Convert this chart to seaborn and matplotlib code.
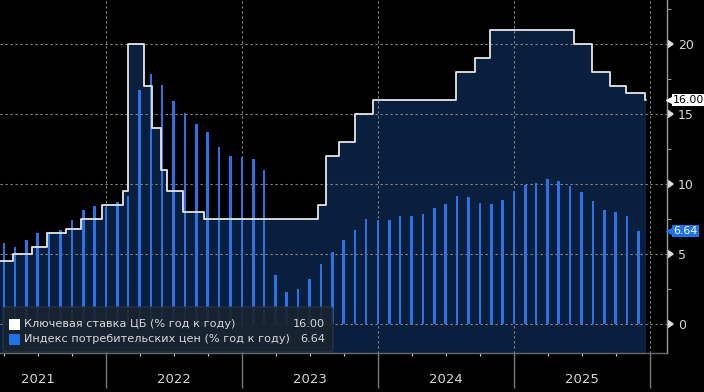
import numpy as np
import pandas as pd
import matplotlib as mpl
import matplotlib.pyplot as plt
import matplotlib.dates as mdates
import matplotlib.transforms as mtransforms
from matplotlib.patches import FancyBboxPatch, Rectangle
import seaborn as sns

# Key rate of the central bank: date of each change and the new level (%)
rate_dates = ['2021-03-21', '2021-04-26', '2021-06-15', '2021-07-26', '2021-09-13',
              '2021-10-25', '2021-12-20', '2022-02-14', '2022-02-28', '2022-04-11',
              '2022-05-04', '2022-05-27', '2022-06-14', '2022-07-25', '2022-09-19',
              '2023-07-24', '2023-08-15', '2023-09-18', '2023-10-30', '2023-12-18',
              '2024-07-29', '2024-09-16', '2024-10-28', '2025-06-09', '2025-07-28',
              '2025-09-15', '2025-10-27', '2025-12-19', '2025-12-20']
rate_values = [4.5, 5.0, 5.5, 6.5, 6.75, 7.5, 8.5, 9.5, 20.0, 17.0,
               14.0, 11.0, 9.5, 8.0, 7.5, 8.5, 12.0, 13.0, 15.0, 16.0,
               18.0, 19.0, 21.0, 20.0, 18.0, 17.0, 16.5, 16.0, 16.0]

# Consumer price index, % y/y, monthly from Mar 2021 to Nov 2025 (plotted at month end)
cpi_first_month = '2021-03'
cpi_values = [5.79, 5.53, 6.02, 6.50, 6.46, 6.68, 7.41, 8.13, 8.40, 8.39,
              8.73, 9.15, 16.69, 17.83, 17.10, 15.90, 15.10, 14.30, 13.68, 12.63, 11.98, 11.94,
              11.77, 10.99, 3.51, 2.31, 2.51, 3.25, 4.30, 5.15, 6.00, 6.69, 7.48, 7.42,
              7.44, 7.69, 7.72, 7.84, 8.30, 8.59, 9.13, 9.05, 8.63, 8.54, 8.88, 9.52,
              9.92, 10.06, 10.34, 10.23, 9.88, 9.40, 8.79, 8.14, 7.98, 7.71, 6.64]

rate_label = 'Ключевая ставка ЦБ (% год к году)'
cpi_label = 'Индекс потребительских цен (% год к году)'
y_ticks = [0, 5, 10, 15, 20]

BG = 'black'
FILL = '#0a1f3d'
BAR = '#2a72e6'
LINE = '#e6e6e6'
TXT = '#d8d8d8'
GRID = '#8a8a8a'


def main():
    sns.set_theme(style='dark', rc={
        'figure.facecolor': BG, 'axes.facecolor': BG, 'savefig.facecolor': BG,
        'text.color': TXT, 'xtick.color': TXT, 'ytick.color': TXT,
    })
    plt.rcParams['font.family'] = ['DejaVu Sans']

    rate = pd.DataFrame({'date': pd.to_datetime(rate_dates), 'rate': rate_values})
    cpi_dates = pd.date_range(cpi_first_month, periods=len(cpi_values), freq='ME')

    fig = plt.figure(figsize=(7.04, 3.92), dpi=100)
    ax = fig.add_axes([0, 39 / 392, 667 / 704, 353 / 392])

    ax.fill_between(rate['date'], rate['rate'], -5, step='post', color=FILL, lw=0, zorder=1)
    ax.bar(cpi_dates, cpi_values, width=6.5, color=BAR, lw=0, zorder=2)
    sns.lineplot(data=rate, x='date', y='rate', drawstyle='steps-post', color=LINE,
                 lw=1.3, ax=ax, zorder=3, estimator=None)

    ax.set_xlim(pd.Timestamp('2021-03-21'), pd.Timestamp('2026-02-15'))
    ax.set_ylim(-2.07, 23.14)
    ax.set_xlabel('')
    ax.set_ylabel('')

    # grid
    ax.set_axisbelow('line')
    ax.grid(True, which='major', color=GRID, lw=0.8, ls=(0, (2, 2.5)))

    # y axis on the right
    ax.yaxis.tick_right()
    ax.set_yticks(y_ticks)
    ax.yaxis.set_minor_locator(mpl.ticker.MultipleLocator(2.5))
    ax.tick_params(axis='y', which='major', length=6, pad=2, labelsize=9, colors=TXT,
                   right=True, left=False)
    ax.tick_params(axis='y', which='minor', length=3, width=0.8, color='#9a9a9a',
                   right=True, left=False)
    for t in ax.yaxis.get_major_ticks():
        t.tick2line.set_marker(mpl.markers.CARETRIGHTBASE)
        t.tick2line.set_markersize(6)
        t.tick2line.set_color('#e0e0e0')

    # x axis: long ticks at year starts, quarter ticks, year label in mid-year
    ax.xaxis.set_major_locator(mdates.YearLocator())
    ax.xaxis.set_major_formatter(mpl.ticker.NullFormatter())
    ax.xaxis.set_minor_locator(mdates.MonthLocator(bymonth=[4, 7, 10]))
    ax.xaxis.set_minor_formatter(mpl.ticker.FuncFormatter(
        lambda v, p: str(mdates.num2date(v).year) if mdates.num2date(v).month == 7 else ''))
    ax.tick_params(axis='x', which='major', length=25, width=1, color='#7a7a7a', bottom=True)
    ax.tick_params(axis='x', which='minor', length=2.5, width=0.8, color='#cfcfcf',
                   bottom=True, pad=12, labelsize=9.5, labelcolor=TXT)

    for side in ['top', 'left']:
        ax.spines[side].set_visible(False)
    ax.spines['right'].set_color('#9a9a9a')
    ax.spines['bottom'].set_color('#6a6a6a')
    for side in ['right', 'bottom']:
        ax.spines[side].set_linewidth(1)
        ax.spines[side].set_visible(True)

    # last-value tags on the right axis
    blend = mtransforms.blended_transform_factory(ax.transAxes, ax.transData)
    tags = [(rate_values[-1], 'white', 'black'), (cpi_values[-1], '#1f73e6', 'white')]
    for val, bg, fg in tags:
        ax.plot([1.004], [val], marker='<', ms=6, color=bg, transform=blend,
                clip_on=False, zorder=5)
        ax.text(1.009, val, f'{val:.2f}', transform=blend, ha='left', va='center',
                fontsize=7.9, color=fg, clip_on=False, zorder=6,
                bbox=dict(boxstyle='square,pad=0.12', fc=bg, ec='none'))

    # legend panel
    W, H = 704, 392
    ff = fig.transFigure
    fig.patches.append(FancyBboxPatch((3 / W, 1 - 352 / H), 330 / W, 45 / H,
                                      boxstyle='round,pad=0,rounding_size=0.006',
                                      transform=ff, fc='#1a2431', ec='#2c3746',
                                      lw=0.8, alpha=0.92, zorder=10))
    rows = [(rate_label, rate_values[-1], 'white', 324), (cpi_label, cpi_values[-1], '#1f73e6', 339)]
    for label, val, col, yc in rows:
        fig.patches.append(Rectangle((9 / W, 1 - (yc + 5.5) / H), 11 / W, 11 / H,
                                     transform=ff, fc=col, ec='none', zorder=11))
        fig.text(24 / W, 1 - yc / H, label, ha='left', va='center', fontsize=8.1,
                 color=TXT, zorder=12)
        fig.text(325 / W, 1 - yc / H, f'{val:.2f}', ha='right', va='center', fontsize=8.1,
                 color=TXT, zorder=12)

    fig.savefig('out.png', dpi=100)


if __name__ == '__main__':
    main()
